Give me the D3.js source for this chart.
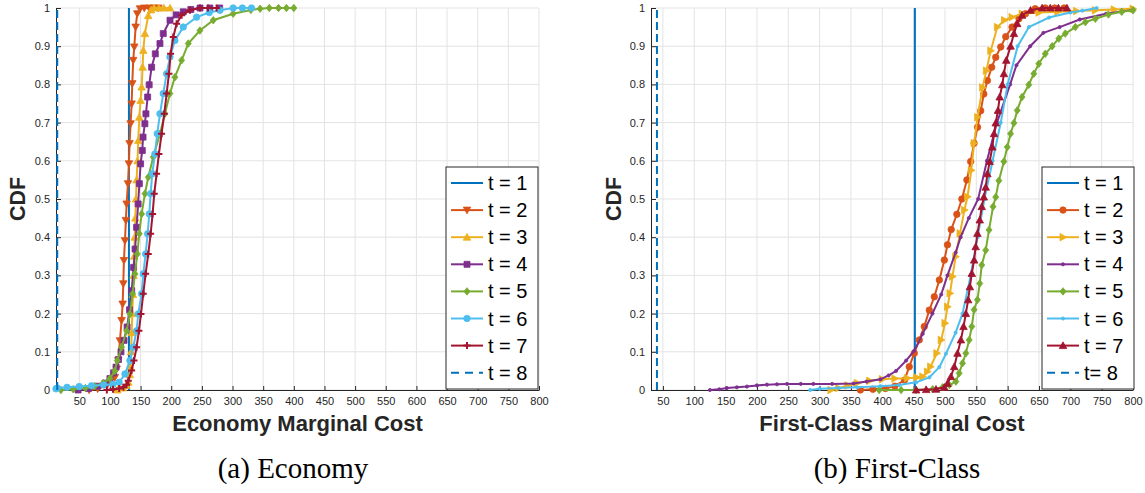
<!DOCTYPE html>
<html><head><meta charset="utf-8">
<script src="https://cdn.jsdelivr.net/npm/d3@7"></script>
<style>body{margin:0;background:#fff;} svg{display:block;}</style>
</head><body><svg id="c" width="1145" height="493"></svg>
<script>
// ---------- data ----------
const xTicks = [50,100,150,200,250,300,350,400,450,500,550,600,650,700,750,800];
const yTicks = [0,0.1,0.2,0.3,0.4,0.5,0.6,0.7,0.8,0.9,1];
const yTickLabels = ["0","0.1","0.2","0.3","0.4","0.5","0.6","0.7","0.8","0.9","1"];
const econNames = ["t = 1","t = 2","t = 3","t = 4","t = 5","t = 6","t = 7","t = 8"];
const fcNames = ["t = 1","t = 2","t = 3","t = 4","t = 5","t = 6","t = 7","t= 8"];
const seriesColors = ["#0072BD","#D95319","#EDB120","#7E2F8E","#77AC30","#4DBEEE","#A2142F","#0072BD"];
const econMarkers = ["none","v","^","s","d","o","+","none"];
const fcMarkers = ["none","o",">",".","d",".","^","none"];

// Economy marginal cost CDFs: [cost, CDF]
const econ_t1 = [[131,0],[131,1]];
const econ_t2 = [[66,0],[80,0.003],[95,0.012],[108,0.033],[111,0.055],[113.6,0.077],[116.3,0.129],[119,0.182],[120.7,0.225],[121.8,0.278],[122.8,0.339],[124.5,0.391],[126,0.444],[127.2,0.487],[129.4,0.54],[131,0.592],[132,0.645],[133.7,0.697],[135.4,0.749],[136.4,0.802],[138,0.863],[139.7,0.898],[141.9,0.95],[144.6,0.985],[149,0.998],[156,1],[164,1],[171,1],[179,1]];
const econ_t3 = [[112,0],[121,0.005],[127,0.012],[130,0.02],[132.6,0.04],[133.7,0.06],[134.5,0.1],[135.5,0.15],[136.5,0.2],[137.5,0.25],[138.5,0.3],[139.5,0.35],[140.5,0.4],[141.5,0.45],[142.5,0.5],[143.5,0.55],[145,0.6],[146.2,0.653],[147.9,0.714],[150,0.758],[151.7,0.793],[153.3,0.845],[154.4,0.889],[157,0.933],[162.5,0.98],[167,0.995],[172,1],[180,1],[188,1],[198,1]];
const econ_t4 = [[48,0],[65,0.004],[80,0.01],[92,0.018],[100,0.03],[106,0.045],[110,0.06],[114,0.08],[118,0.1],[123,0.13],[128,0.165],[132,0.21],[135.5,0.26],[138.6,0.321],[141,0.369],[143.5,0.426],[146,0.487],[148,0.54],[150,0.592],[152.8,0.627],[154,0.662],[157,0.697],[158.7,0.723],[161.5,0.767],[164,0.799],[168,0.845],[174,0.88],[181.6,0.907],[187,0.933],[198,0.968],[208,0.982],[219.6,0.99],[232,0.996],[247,1],[263,1],[279,1]];
const econ_t5 = [[20,0],[40,0.002],[60,0.005],[75,0.01],[89,0.018],[100,0.03],[108,0.05],[112,0.077],[119,0.112],[127.2,0.155],[132.6,0.199],[137,0.252],[140.8,0.304],[144.6,0.356],[147.9,0.409],[151.7,0.461],[157.1,0.514],[162.5,0.557],[170.7,0.61],[181.6,0.671],[189.7,0.723],[197.9,0.776],[206,0.819],[216.9,0.863],[227.8,0.907],[246.8,0.941],[268.6,0.968],[301,0.985],[330,0.995],[345,0.998],[360,1],[375,1],[388,1],[400,1]];
const econ_t6 = [[12,0.003],[14,0.005],[30,0.007],[50,0.009],[70,0.011],[90,0.013],[105,0.015],[115,0.02],[124.5,0.042],[132.6,0.077],[138,0.112],[143.5,0.155],[146.2,0.199],[151.7,0.252],[154.4,0.304],[158.2,0.356],[161.5,0.409],[164.2,0.461],[166.4,0.514],[169,0.566],[173.4,0.618],[177.2,0.671],[181.6,0.723],[187,0.776],[192.5,0.828],[197.9,0.872],[206,0.915],[219.6,0.95],[241.4,0.976],[262,0.988],[279.5,0.994],[301,1],[316,1],[331,1]];
const econ_t7 = [[95,0],[105,0.002],[115,0.004],[122,0.007],[127,0.014],[129.9,0.024],[135.4,0.051],[139.2,0.077],[143.5,0.112],[147.3,0.155],[150.6,0.199],[154.4,0.252],[158.2,0.304],[162.5,0.356],[166.4,0.409],[169.6,0.461],[172.3,0.514],[176.1,0.566],[179.9,0.618],[184.3,0.671],[188.6,0.723],[192.5,0.776],[196.3,0.828],[199,0.88],[203.3,0.924],[208.8,0.959],[216.9,0.981],[230.5,0.994],[246.8,1],[260,1],[274,1]];
const econ_t8 = [[14,0],[14,1]];

// First-class marginal cost CDFs: [cost, CDF]
const fc_t1 = [[452,0],[452,1]];
const fc_t2 = [[365,0],[385,0.002],[405,0.004],[420,0.01],[435.5,0.026],[443,0.061],[451,0.096],[459,0.131],[467,0.166],[475,0.209],[483,0.244],[491,0.288],[499,0.34],[504,0.38],[510,0.42],[519,0.46],[527,0.5],[535,0.55],[541,0.598],[546.5,0.646],[552,0.688],[557,0.731],[562,0.775],[567.7,0.81],[574.6,0.845],[581,0.871],[589,0.898],[597,0.925],[607,0.95],[618,0.972],[628.5,0.985],[644,0.998],[660,1],[675,1],[690,1]];
const fc_t3 = [[318,0],[330,0.005],[345,0.012],[360,0.018],[380,0.024],[400,0.028],[420,0.03],[440,0.031],[455,0.033],[464.5,0.035],[472,0.048],[477,0.061],[487,0.096],[494,0.131],[500,0.175],[504,0.218],[508,0.253],[512,0.297],[517,0.349],[524,0.41],[531,0.471],[536,0.506],[542,0.575],[546.5,0.646],[552,0.714],[560,0.792],[566,0.836],[573,0.888],[583.6,0.95],[595,0.968],[607,0.976],[623,0.985],[650,0.988],[680,0.99],[710,0.992],[740,0.994],[770,0.996],[800,0.998]];
const fc_t4 = [[125,0],[140,0.002],[152,0.005],[168,0.007],[184,0.009],[200,0.012],[216,0.014],[232,0.015],[248,0.016],[270,0.016],[290,0.016],[320,0.016],[354,0.017],[375,0.022],[397,0.028],[410,0.038],[422,0.05],[438,0.077],[451,0.103],[464.5,0.147],[480,0.2],[494,0.25],[504,0.3],[517,0.36],[525,0.4],[538,0.45],[553,0.5],[567,0.6],[583,0.7],[604,0.8],[614,0.85],[636,0.9],[657,0.935],[683,0.95],[715,0.97],[757,0.985],[800,0.995]];
const fc_t5 = [[395,0],[430,0],[454,0],[480.4,0.002],[496.3,0.007],[506.9,0.013],[517.4,0.022],[522.7,0.044],[528,0.07],[533.3,0.096],[538.6,0.131],[542.8,0.166],[546.5,0.21],[551.8,0.236],[555.5,0.279],[558.7,0.327],[565,0.366],[570.3,0.419],[576.7,0.48],[581,0.505],[586,0.548],[594,0.598],[599.4,0.636],[604.7,0.671],[610,0.699],[615.3,0.732],[623,0.767],[633.8,0.799],[641.8,0.828],[649.7,0.854],[660,0.88],[671,0.9],[681.6,0.92],[692,0.933],[708,0.95],[724,0.963],[740,0.972],[760.8,0.983],[782,0.99],[800,0.994]];
const fc_t6 = [[285,0],[300,0.003],[330,0.005],[360,0.007],[397,0.01],[427,0.013],[454,0.02],[475,0.033],[491,0.06],[501.6,0.095],[517,0.15],[528,0.2],[541,0.3],[552,0.4],[563,0.5],[576,0.6],[589,0.7],[600,0.8],[616,0.9],[634,0.95],[666,0.975],[700,0.988],[719,0.993],[742,1]];
const fc_t7 = [[454,0],[470,0.001],[485.7,0.002],[499,0.007],[504,0.017],[509.5,0.035],[514.8,0.061],[520,0.096],[525.4,0.131],[529.6,0.166],[533.3,0.2],[537,0.236],[539.7,0.27],[542.8,0.305],[546.5,0.34],[549,0.375],[551.8,0.41],[555.5,0.445],[558.7,0.48],[562,0.505],[565,0.531],[567.7,0.566],[571.4,0.598],[575.6,0.636],[578.3,0.671],[581,0.699],[584.6,0.732],[587.3,0.767],[591.5,0.799],[594,0.828],[597.8,0.863],[604.7,0.9],[610,0.933],[615.3,0.959],[623,0.981],[636.5,0.994],[655,1],[668,1],[681,1],[694.6,1]];
const fc_t8 = [[40.5,0],[40.5,1]];

// ---------- drawing ----------
const svg = d3.select("#c");
const SANS = "'Liberation Sans', Arial, sans-serif";
const AXC = "#262626";

function markerPath(type, s){
  const h = s/2;
  switch(type){
    case "v": return `M${-h},${-h*0.8}L${h},${-h*0.8}L0,${h}Z`;
    case "^": return `M${-h},${h*0.8}L${h},${h*0.8}L0,${-h}Z`;
    case ">": return `M${-h*0.8},${-h}L${h},0L${-h*0.8},${h}Z`;
    case "s": return `M${-h*0.8},${-h*0.8}H${h*0.8}V${h*0.8}H${-h*0.8}Z`;
    case "d": return `M0,${-h}L${h*0.8},0L0,${h}L${-h*0.8},0Z`;
    case "o": return d3.symbol(d3.symbolCircle, Math.PI*h*h*0.75)();
    case ".": return d3.symbol(d3.symbolCircle, Math.PI*1.6*1.6)();
    case "+": return `M${-h},0H${h}M0,${-h}V${h}`;
  }
  return "";
}

function drawMarkers(g, pts, type, color, size){
  if(type==="none") return;
  g.selectAll(null).data(pts).join("path")
    .attr("transform", d=>`translate(${d[0]},${d[1]})`)
    .attr("d", markerPath(type, size))
    .attr("fill", type==="+" ? "none" : color)
    .attr("stroke", color)
    .attr("stroke-width", type==="+" ? 2 : 0.8);
}

function panel(cfg){
  const g = svg.append("g");
  const x = d3.scaleLinear().domain(cfg.xDomain).range(cfg.xRange);
  const y = d3.scaleLinear().domain([0,1]).range([390,8]);
  // grid
  g.append("g").selectAll("line").data(xTicks).join("line")
    .attr("x1",d=>x(d)).attr("x2",d=>x(d)).attr("y1",y(0)).attr("y2",y(1))
    .attr("stroke","#e3e3e3").attr("stroke-width",1);
  g.append("g").selectAll("line").data(yTicks).join("line")
    .attr("x1",x.range()[0]).attr("x2",x.range()[1]).attr("y1",d=>y(d)).attr("y2",d=>y(d))
    .attr("stroke","#e3e3e3").attr("stroke-width",1);
  // axes
  const xa = g.append("g").attr("transform",`translate(0,${y(0)})`)
    .call(d3.axisBottom(x).tickValues(xTicks).tickSize(-4).tickSizeOuter(0).tickPadding(7));
  const ya = g.append("g").attr("transform",`translate(${x.range()[0]},0)`)
    .call(d3.axisLeft(y).tickValues(yTicks).tickFormat((d,i)=>yTickLabels[i]).tickSize(-5).tickSizeOuter(0).tickPadding(6));
  [xa,ya].forEach(a=>{
    a.selectAll("path,line").attr("stroke",AXC);
    a.selectAll("text").attr("fill",AXC).attr("font-family",SANS).attr("font-size","11px");
  });
  // series
  const line = d3.line().x(d=>x(d[0])).y(d=>y(d[1]));
  cfg.series.forEach((s,i)=>{
    g.append("path").datum(s).attr("d",line).attr("fill","none")
      .attr("stroke",seriesColors[i]).attr("stroke-width",2)
      .attr("stroke-dasharray", i===7 ? "8,4" : null);
    const sz = cfg.markers[i]==="+" ? 7 : 7.5;
    drawMarkers(g, s.map(d=>[x(d[0]),y(d[1])]), cfg.markers[i], seriesColors[i], sz);
  });
  // labels
  g.append("text").attr("x",(x.range()[0]+x.range()[1])/2).attr("y",431)
    .attr("text-anchor","middle").attr("font-family",SANS).attr("font-weight","bold")
    .attr("font-size","22px").attr("fill",AXC).text(cfg.xLabel);
  g.append("text").attr("transform",`translate(${cfg.yLabelX},199) rotate(-90)`)
    .attr("text-anchor","middle").attr("dominant-baseline","central").attr("font-family",SANS).attr("font-weight","bold")
    .attr("font-size","21.5px").attr("fill",AXC).text("CDF");
  g.append("text").attr("x",cfg.capX).attr("y",478).attr("text-anchor","middle")
    .attr("font-family","'Liberation Serif', 'Times New Roman', serif").attr("font-size","29px")
    .attr("fill","#000").text(cfg.caption);
  // legend
  const lx = cfg.legX, ly = 167;
  const lg = g.append("g");
  lg.append("rect").attr("x",lx).attr("y",ly).attr("width",92).attr("height",222)
    .attr("fill","#fff").attr("stroke",AXC).attr("stroke-width",1);
  cfg.names.forEach((n,i)=>{
    const cy = 183 + i*27.1;
    lg.append("line").attr("x1",lx+5).attr("x2",lx+37).attr("y1",cy).attr("y2",cy)
      .attr("stroke",seriesColors[i]).attr("stroke-width",2)
      .attr("stroke-dasharray", i===7 ? "8,6" : null);
    drawMarkers(lg,[[lx+21,cy]],cfg.markers[i],seriesColors[i], cfg.markers[i]==="+"?7:7.5);
    lg.append("text").attr("x",lx+42).attr("y",cy).attr("dominant-baseline","central")
      .attr("font-family",SANS).attr("font-size","20px").attr("fill","#000").text(n);
  });
}

panel({xDomain:[12,800], xRange:[56,539], series:[econ_t1,econ_t2,econ_t3,econ_t4,econ_t5,econ_t6,econ_t7,econ_t8],
  markers:econMarkers, names:econNames, xLabel:"Economy Marginal Cost", caption:"(a) Economy",
  yLabelX:18, capX:293, legX:446});
panel({xDomain:[31,800], xRange:[651,1133], series:[fc_t1,fc_t2,fc_t3,fc_t4,fc_t5,fc_t6,fc_t7,fc_t8],
  markers:fcMarkers, names:fcNames, xLabel:"First-Class Marginal Cost", caption:"(b) First-Class",
  yLabelX:614, capX:897, legX:1042});
</script></body></html>
